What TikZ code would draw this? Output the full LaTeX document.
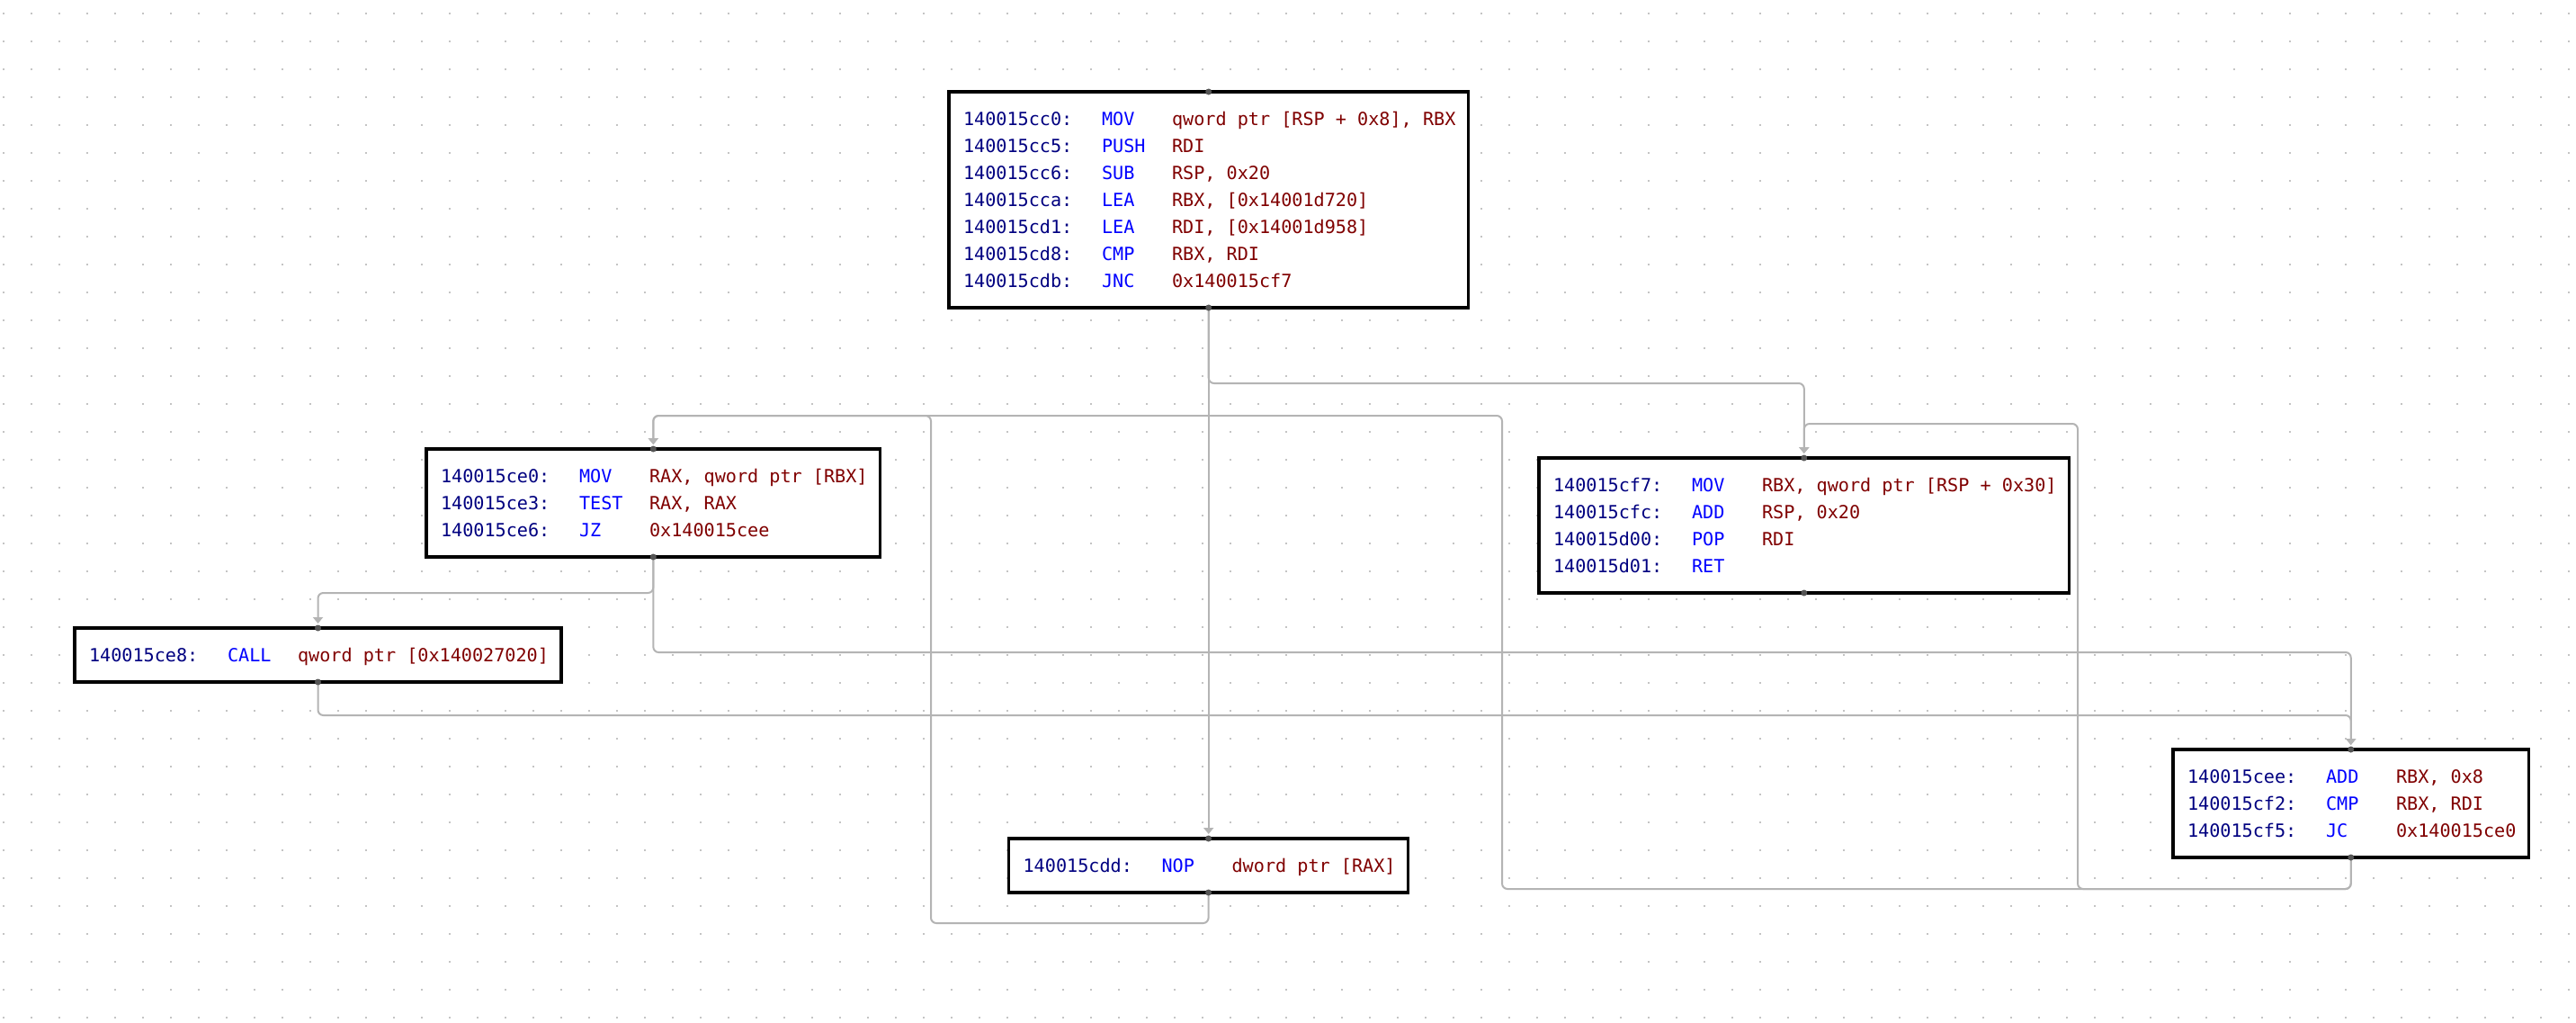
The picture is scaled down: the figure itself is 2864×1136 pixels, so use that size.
\documentclass[tikz,border=0pt]{standalone}
\usepackage{fontspec}
\usetikzlibrary{arrows.meta}
\newfontfamily\codefont{DejaVu Sans Mono}
\definecolor{addrc}{HTML}{000080}
\definecolor{mnemc}{HTML}{0000FF}
\definecolor{operc}{HTML}{800000}
\definecolor{edgec}{HTML}{B4B4B4}
\definecolor{gridc}{HTML}{C4C4C4}
\definecolor{portc}{HTML}{555555}
\newcommand\asmline[3]{\hbox{\hskip16pt\rule[-7.6pt]{0pt}{30pt}\makebox[154pt][l]{\color{addrc}#1}\makebox[78pt][l]{\color{mnemc}#2}{\color{operc}#3}\hskip14pt}}
\tikzset{
  asmbox/.style={draw=black, line width=3.5pt, fill=white, inner xsep=0pt, inner ysep=15pt,
    outer sep=0pt, anchor=north west, font=\codefont\fontsize{20.15pt}{30pt}\selectfont},
  cfedge/.style={draw=edgec, line width=2pt, rounded corners=6pt,
    -{Triangle[width=11pt,length=7pt,fill=edgec]}, shorten >=5pt},
  portdot/.style={fill=portc}
}
\begin{document}
\begin{tikzpicture}[x=1pt,y=-1pt]
\fill[white] (0,0) rectangle (2864,1136);
\useasboundingbox (0,0) rectangle (2864,1136);
% dot grid
\foreach \i in {0,...,92} {
  \foreach \j in {0,...,36} {
    \fill[gridc] (2.5+31*\i,13.5+31*\j) rectangle ++(2,2);
  }
}
% blocks
\node[asmbox] (A) at (1055,102) {\vbox{\offinterlineskip
  \asmline{140015cc0:}{MOV}{qword ptr [RSP + 0x8], RBX}
  \asmline{140015cc5:}{PUSH}{RDI}
  \asmline{140015cc6:}{SUB}{RSP, 0x20}
  \asmline{140015cca:}{LEA}{RBX, [0x14001d720]}
  \asmline{140015cd1:}{LEA}{RDI, [0x14001d958]}
  \asmline{140015cd8:}{CMP}{RBX, RDI}
  \asmline{140015cdb:}{JNC}{0x140015cf7}}};
\node[asmbox] (B) at (474,499) {\vbox{\offinterlineskip
  \asmline{140015ce0:}{MOV}{RAX, qword ptr [RBX]}
  \asmline{140015ce3:}{TEST}{RAX, RAX}
  \asmline{140015ce6:}{JZ}{0x140015cee}}};
\node[asmbox] (C) at (83,698) {\vbox{\offinterlineskip
  \asmline{140015ce8:}{CALL}{qword ptr [0x140027020]}}};
\node[asmbox] (D) at (1711,509) {\vbox{\offinterlineskip
  \asmline{140015cf7:}{MOV}{RBX, qword ptr [RSP + 0x30]}
  \asmline{140015cfc:}{ADD}{RSP, 0x20}
  \asmline{140015d00:}{POP}{RDI}
  \asmline{140015d01:}{RET}{}}};
\node[asmbox] (E) at (2416,833) {\vbox{\offinterlineskip
  \asmline{140015cee:}{ADD}{RBX, 0x8}
  \asmline{140015cf2:}{CMP}{RBX, RDI}
  \asmline{140015cf5:}{JC}{0x140015ce0}}};
\node[asmbox] (F) at (1121.6,932) {\vbox{\offinterlineskip
  \asmline{140015cdd:}{NOP}{dword ptr [RAX]}}};
% routing levels
\coordinate (yAD) at (0,426);
\coordinate (yBC) at (0,659);
\coordinate (yBE) at (0,725);
\coordinate (yCE) at (0,795);
\coordinate (yEx) at (0,988);
\coordinate (yFx) at (0,1026);
\coordinate (xFB) at (1035,462);
\coordinate (xEB) at (1670,462);
\coordinate (xED) at (2310,471);
% connectors
\draw[cfedge] (A.south) -- (A.south |- yAD) -| (D.north);
\draw[cfedge] (A.south) -- (A.south |- F.north);
\draw[cfedge] (F.south) -- (F.south |- yFx) -| (xFB) -| (B.north);
\draw[cfedge] (E.south) -- (E.south |- yEx) -| (xEB) -| (B.north);
\draw[cfedge] (E.south) -- (E.south |- yEx) -| (xED) -| (D.north);
\draw[cfedge] (B.south) -- (B.south |- yBC) -| (C.north);
\draw[cfedge] (B.south) -- (B.south |- yBE) -| (E.north);
\draw[cfedge] (C.south) -- (C.south |- yCE) -| (E.north);
% ports
\foreach \n in {A,B,C,D,E,F} {
  \fill[portdot] (\n.north) circle (3.5pt);
  \fill[portdot] (\n.south) circle (3.5pt);
}
\end{tikzpicture}
\end{document}
